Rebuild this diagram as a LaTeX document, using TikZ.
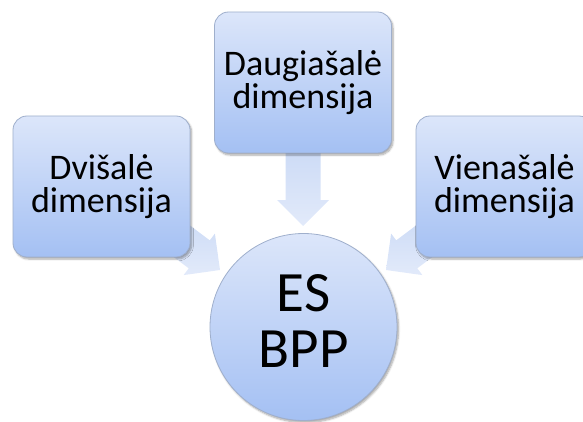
\documentclass[tikz,border=0pt]{standalone}
\usepackage{fontspec}
\setmainfont{Carlito}
\usetikzlibrary{shadows.blur,calc}
\definecolor{boxtop}{HTML}{DCE6FA}
\definecolor{boxbot}{HTML}{A4C0F3}
\definecolor{boxline}{HTML}{9FAFCC}
\definecolor{arrdark}{HTML}{C8D8F5}
\definecolor{arrlight}{HTML}{E2EAFA}
\newcommand\blockarrow[3]{%
  \begin{scope}[shift={(#1)}, rotate=#2]
    \path[arrowstyle] (0,0) -- (-26,26) -- (-26,17.5) -- (-#3,17.5)
      -- (-#3,-17.5) -- (-26,-17.5) -- (-26,-26) -- cycle;
  \end{scope}}
\begin{document}
\begin{tikzpicture}[x=1pt,y=-1pt,
  shade/.style={draw=boxline, line width=0.8pt, top color=boxtop, bottom color=boxbot,
    blur shadow={shadow xshift=1.5pt, shadow yshift=-2pt, shadow blur steps=6, shadow opacity=35}},
  boxstyle/.style={shade, rounded corners=14pt, minimum width=177pt, minimum height=141pt,
    inner sep=0pt, align=center, font=\fontsize{36}{33}\selectfont},
  circstyle/.style={shade, circle, minimum size=187pt, inner sep=0pt},
  bigtext/.style={align=center, font=\fontsize{57}{56}\selectfont, inner sep=0pt},
  arrowstyle/.style={top color=arrdark, bottom color=arrlight}]
\useasboundingbox (0,0) rectangle (583,422);
\clip (0,0) rectangle (583,422);
% tips of the block arrows
\coordinate (tipT) at (303,226);
\coordinate (tipL) at (220,270);
\coordinate (tipR) at (386,270);
\blockarrow{tipT}{-90}{92}
\blockarrow{tipL}{-37}{82}
\blockarrow{tipR}{-143}{82}
\node[boxstyle] (dvi) at (101.5,186.5) {Dvišalė\\dimensija};
\node[boxstyle] (daug) at (303,82.5) {Daugiašalė\\dimensija};
\node[boxstyle] (vien) at (504.5,186.5) {Vienašalė\\dimensija};
\node[circstyle] (es) at (303.5,327) {};
\node[bigtext] (estext) at (303.5,321.5) {ES\\BPP};
\end{tikzpicture}
\end{document}
